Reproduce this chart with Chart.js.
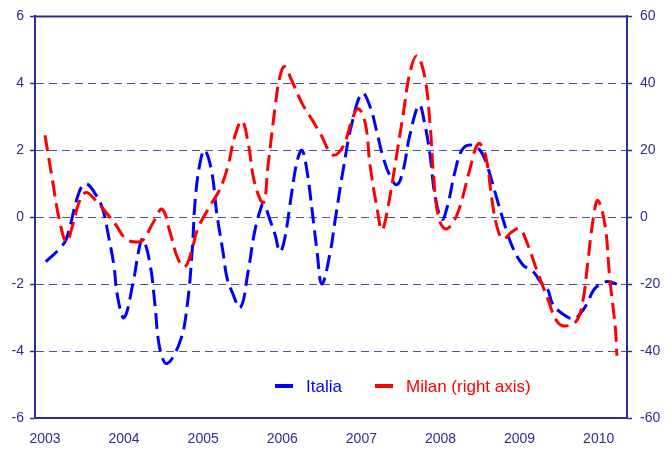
<!DOCTYPE html>
<html>
<head>
<meta charset="utf-8">
<script src="https://cdn.jsdelivr.net/npm/chart.js@4.4.1/dist/chart.umd.min.js"></script>
<style>
  body { margin: 0; background: #fff; }
  canvas { display: block; }
</style>
</head>
<body>
<canvas id="lineChart" width="672" height="451"></canvas>
<script>
// year ticks on the x axis
var years = [2003, 2004, 2005, 2006, 2007, 2008, 2009, 2010];
var leftTicks = [-6, -4, -2, 0, 2, 4, 6];
var rightTicks = [-60, -40, -20, 0, 20, 40, 60];

// Italia (left axis), dates as decimal years
var italiaDates = [2003.01, 2003.18, 2003.27, 2003.43, 2003.52, 2003.64, 2003.73, 2003.81, 2003.87, 2003.92,
  2004.00, 2004.11, 2004.20, 2004.24, 2004.33, 2004.39, 2004.45, 2004.54, 2004.71, 2004.80,
  2004.86, 2004.90, 2004.96, 2005.02, 2005.11, 2005.17, 2005.25, 2005.30, 2005.36, 2005.47,
  2005.57, 2005.65, 2005.74, 2005.77, 2005.84, 2005.91, 2005.97, 2006.03, 2006.12, 2006.19,
  2006.25, 2006.31, 2006.38, 2006.44, 2006.50, 2006.60, 2006.67, 2006.77, 2006.88, 2007.01,
  2007.11, 2007.20, 2007.27, 2007.36, 2007.45, 2007.53, 2007.61, 2007.73, 2007.80, 2007.87,
  2007.93, 2008.02, 2008.09, 2008.18, 2008.27, 2008.37, 2008.50, 2008.59, 2008.69, 2008.79,
  2008.90, 2009.04, 2009.17, 2009.26, 2009.35, 2009.42, 2009.55, 2009.68, 2009.76, 2009.85,
  2009.93, 2010.02, 2010.11, 2010.23];
var italiaValues = [-1.33, -0.95, -0.65, 0.74, 1.0, 0.68, 0.24, -0.65, -1.42, -2.4,
  -3.0, -2.0, -0.83, -0.65, -1.42, -2.6, -3.9, -4.37, -3.7, -2.6,
  -1.03, 0.53, 1.62, 2.0, 1.33, 0.15, -1.03, -1.8, -2.2, -2.7,
  -1.6, -0.44, 0.35, 0.4, -0.05, -0.53, -1.03, -0.65, 0.74, 1.7,
  2.0, 1.42, 0.15, -1.03, -2.0, -1.12, -0.06, 1.42, 2.8, 3.7,
  3.3, 2.5, 1.83, 1.24, 0.97, 1.42, 2.42, 3.35, 2.8, 1.83,
  0.65, -0.06, 0.35, 1.33, 2.0, 2.16, 2.0, 1.54, 0.74, -0.06,
  -0.83, -1.42, -1.62, -1.92, -2.13, -2.6, -2.9, -3.04, -2.9, -2.6,
  -2.2, -2.0, -1.92, -2.0];

// Milan (right axis)
var milanDates = [2003.00, 2003.10, 2003.18, 2003.27, 2003.35, 2003.43, 2003.52, 2003.64, 2003.77, 2003.90,
  2004.02, 2004.15, 2004.24, 2004.37, 2004.48, 2004.58, 2004.68, 2004.77, 2004.86, 2004.93,
  2005.09, 2005.21, 2005.31, 2005.40, 2005.49, 2005.57, 2005.65, 2005.76, 2005.82, 2005.91,
  2005.97, 2006.03, 2006.12, 2006.25, 2006.38, 2006.48, 2006.64, 2006.77, 2006.88, 2006.96,
  2007.05, 2007.11, 2007.20, 2007.26, 2007.34, 2007.45, 2007.53, 2007.61, 2007.70, 2007.80,
  2007.87, 2007.91, 2007.97, 2008.06, 2008.16, 2008.25, 2008.36, 2008.48, 2008.57, 2008.65,
  2008.71, 2008.79, 2008.90, 2009.00, 2009.09, 2009.22, 2009.35, 2009.47, 2009.57, 2009.72,
  2009.80, 2009.86, 2009.93, 2009.99, 2010.08, 2010.14, 2010.21, 2010.23];
var milanValues = [24.5, 10.3, -0.6, -7.4, -2.4, 4.4, 7.4, 5.0, 1.5, -2.4,
  -6.5, -7.4, -6.8, -1.5, 2.4, -4.4, -12.4, -14.8, -9.5, -3.5,
  3.5, 8.3, 15.0, 24.2, 28.7, 22.0, 10.3, 4.4, 15.4, 33.0,
  42.0, 45.0, 40.8, 34.0, 29.0, 25.0, 18.6, 21.2, 29.0, 32.5,
  28.0, 15.4, 2.4, -3.8, 3.5, 19.2, 31.0, 42.8, 48.2, 42.0,
  27.2, 13.3, 0.6, -3.5, -1.5, 3.5, 13.3, 22.0, 18.3, 5.3,
  -2.4, -6.5, -4.4, -3.5, -7.4, -16.0, -24.0, -31.0, -32.5, -31.0,
  -25.0, -14.0, -0.6, 5.0, -2.4, -18.3, -33.0, -41.4];

var axisColor = '#2e2e8f';
var gridColor = '#50509e';
var font = { family: '"Liberation Sans", Arial, sans-serif', size: 14 };

function toPoints(dates, values) {
    return dates.map(function (d, i) { return { x: d, y: values[i] }; });
}

// top frame line and the legend inside the plot
var overlay = {
    id: 'overlay',
    afterDraw: function (chart) {
        var ctx = chart.ctx, a = chart.chartArea;
        ctx.save();
        ctx.strokeStyle = axisColor;
        ctx.lineWidth = 2;
        ctx.beginPath();
        ctx.moveTo(a.left, a.top);
        ctx.lineTo(a.right, a.top);
        ctx.stroke();

        var spots = [275, 375];
        ctx.font = '17px "Liberation Sans", Arial, sans-serif';
        ctx.textBaseline = 'middle';
        chart.data.datasets.forEach(function (ds, i) {
            var x = spots[i], y = 386;
            ctx.strokeStyle = ds.borderColor;
            ctx.lineWidth = 4;
            ctx.beginPath();
            ctx.moveTo(x, y);
            ctx.lineTo(x + 18, y);
            ctx.stroke();
            ctx.fillStyle = ds.borderColor;
            ctx.fillText(ds.label, x + 31, y + 1);
        });
        ctx.restore();
    }
};

window.onload = function () {
    var ctx = document.getElementById('lineChart').getContext('2d');
    var chart = new Chart(ctx, {
        type: 'line',
        data: {
            datasets: [
                {
                    label: 'Italia',
                    data: toPoints(italiaDates, italiaValues),
                    yAxisID: 'y',
                    borderColor: '#0000ff',
                    borderWidth: 3,
                    borderDash: [16, 7],
                    pointRadius: 0,
                    tension: 0.4,
                    fill: false,
                    order: 1
                },
                {
                    label: 'Milan (right axis)',
                    data: toPoints(milanDates, milanValues),
                    yAxisID: 'y1',
                    borderColor: '#ff0000',
                    borderWidth: 3,
                    borderDash: [16, 7],
                    pointRadius: 0,
                    tension: 0.4,
                    fill: false,
                    order: 0
                }
            ]
        },
        options: {
            responsive: false,
            animation: false,
            devicePixelRatio: 1,
            layout: { padding: { top: 12, left: 0, right: 0, bottom: 0 } },
            plugins: {
                legend: { display: false },
                tooltip: { enabled: false }
            },
            scales: {
                x: {
                    type: 'linear',
                    min: 2002.874,
                    max: 2010.358,
                    afterBuildTicks: function (scale) {
                        scale.ticks = years.map(function (v) { return { value: v }; });
                    },
                    afterFit: function (scale) { scale.height = 33; },
                    grid: { display: false, drawTicks: false },
                    border: { display: true, color: axisColor, width: 2 },
                    ticks: {
                        color: axisColor,
                        font: font,
                        padding: 13,
                        maxRotation: 0,
                        callback: function (v) { return String(v); }
                    }
                },
                y: {
                    position: 'left',
                    min: -6,
                    max: 6,
                    afterBuildTicks: function (scale) {
                        scale.ticks = leftTicks.map(function (v) { return { value: v }; });
                    },
                    afterFit: function (scale) { scale.width = 35; },
                    grid: {
                        color: function (c) {
                            return (c.tick && Math.abs(c.tick.value) === 6) ? 'rgba(0,0,0,0)' : gridColor;
                        },
                        lineWidth: 1,
                        tickColor: axisColor,
                        tickLength: 5,
                        tickWidth: 1.5
                    },
                    border: { display: true, color: axisColor, width: 2, dash: [8, 5] },
                    ticks: { color: axisColor, font: font, padding: 6 }
                },
                y1: {
                    position: 'right',
                    min: -60,
                    max: 60,
                    afterBuildTicks: function (scale) {
                        scale.ticks = rightTicks.map(function (v) { return { value: v }; });
                    },
                    afterFit: function (scale) { scale.width = 45; },
                    grid: {
                        drawOnChartArea: false,
                        tickColor: axisColor,
                        tickLength: 5,
                        tickWidth: 1.5
                    },
                    border: { display: true, color: axisColor, width: 2 },
                    ticks: { color: axisColor, font: font, padding: 8 }
                }
            }
        },
        plugins: [overlay]
    });
};
</script>
</body>
</html>
